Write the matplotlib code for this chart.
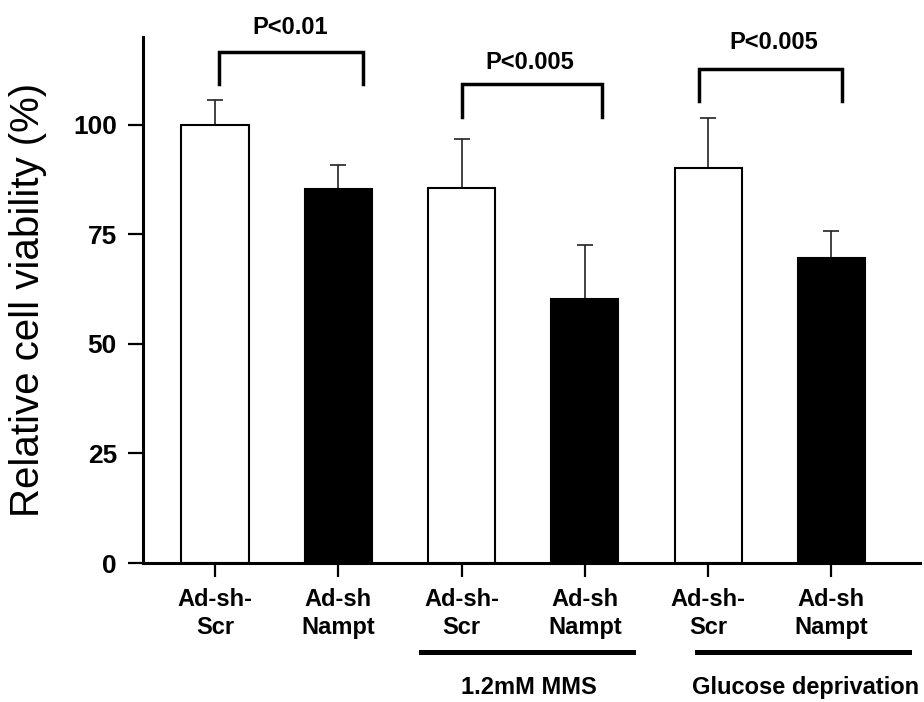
import matplotlib
matplotlib.use("Agg")
import matplotlib.pyplot as plt

plt.rcParams['font.family'] = ['Liberation Sans', 'DejaVu Sans']

# bar data (relative viability %, upper SD)
labels = ['Ad-sh-\nScr', 'Ad-sh\nNampt', 'Ad-sh-\nScr', 'Ad-sh\nNampt', 'Ad-sh-\nScr', 'Ad-sh\nNampt']
values = [100.0, 85.3, 85.5, 60.2, 90.1, 69.6]
errors = [5.6, 5.5, 11.2, 12.3, 11.4, 6.1]
fills = ['white', 'black', 'white', 'black', 'white', 'black']

# significance brackets: (left x, right x, top y, leg bottom y, text x, text y, text)
brackets = [
    (0.03, 1.20, 116.6, 109.3, 0.61, 122.3, 'P<0.01'),
    (2.00, 3.14, 109.3, 101.7, 2.55, 114.3, 'P<0.005'),
    (3.93, 5.09, 112.7, 105.4, 4.53, 118.8, 'P<0.005'),
]

# treatment groups below axis: (x start, x end, text x, text)
groups = [
    (1.67, 3.39, 2.55, '1.2mM MMS'),
    (3.91, 5.63, 4.79, 'Glucose deprivation'),
]

fig = plt.figure(figsize=(9.24, 7.02), dpi=100)
ax = fig.add_axes([0.1548, 0.198, 0.841, 0.749])

x = list(range(len(values)))
ax.bar(x, values, width=0.545, color=fills, edgecolor='black', linewidth=1.5, zorder=2)
ax.errorbar(x, values, yerr=[[0] * len(errors), errors], fmt='none',
            ecolor='#222222', elinewidth=1.2, capsize=6, capthick=1.2, zorder=1)

ax.set_xlim(-0.584, 5.72)
ax.set_ylim(0, 120)
ax.set_yticks([0, 25, 50, 75, 100])
ax.set_xticks(x)
ax.set_xticklabels(labels, fontsize=17, fontweight='bold', linespacing=1.25)
for t in ax.get_yticklabels():
    t.set_fontsize(19)
    t.set_fontweight('bold')

for side in ['top', 'right']:
    ax.spines[side].set_visible(False)
for side in ['left', 'bottom']:
    ax.spines[side].set_linewidth(2.2)
ax.tick_params(axis='y', length=10.8, width=1.6, pad=8)
ax.tick_params(axis='x', length=10, width=1.6, pad=8)

ax.set_ylabel('Relative cell viability (%)', fontsize=29, va='center')
ax.yaxis.set_label_coords(-0.148, 0.5)

for x0, x1, ytop, ybot, tx, ty, txt in brackets:
    ax.plot([x0, x0, x1, x1], [ybot, ytop, ytop, ybot], color='black',
            linewidth=2.5, clip_on=False, solid_joinstyle='miter')
    ax.text(tx, ty, txt, ha='center', va='center', fontsize=17,
            fontweight='bold', clip_on=False)

for x0, x1, tx, txt in groups:
    ax.plot([x0, x1], [-20.4, -20.4], color='black', linewidth=3.6, clip_on=False)
    ax.text(tx, -28.3, txt, ha='center', va='center', fontsize=17,
            fontweight='bold', clip_on=False)

fig.savefig('out.png', dpi=100)
